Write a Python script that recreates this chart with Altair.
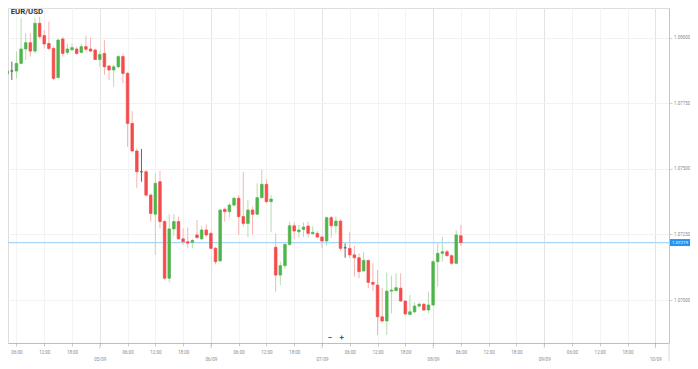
import pandas as pd
import altair as alt

# ---- hourly EUR/USD candles (04/09 04:00 -> 08/09 06:00, UTC) ----
start = "2023-09-04 04:00"
open_ = [1.07863, 1.07873, 1.07873, 1.07902, 1.07957, 1.07981, 1.07949, 1.08055, 1.08008, 1.07978,
         1.07959, 1.07848, 1.07995, 1.07944, 1.07954, 1.07957, 1.07944, 1.07966, 1.07957, 1.07953,
         1.07917, 1.07940, 1.07892, 1.07877, 1.07889, 1.07928, 1.07864, 1.07673, 1.07568, 1.07489,
         1.07489, 1.07400, 1.07327, 1.07451, 1.07299, 1.07083, 1.07271, 1.07299, 1.07233, 1.07222,
         1.07220, 1.07248, 1.07233, 1.07267, 1.07254, 1.07197, 1.07149, 1.07346, 1.07337, 1.07362,
         1.07388, 1.07318, 1.07292, 1.07343, 1.07327, 1.07390, 1.07441, 1.07375, 1.07201, 1.07095,
         1.07131, 1.07212, 1.07283, 1.07260, 1.07269, 1.07282, 1.07253, 1.07254, 1.07240, 1.07225,
         1.07314, 1.07283, 1.07301, 1.07199, 1.07197, 1.07172, 1.07161, 1.07111, 1.07151, 1.07067,
         1.07057, 1.06936, 1.06920, 1.07034, 1.07036, 1.07045, 1.06996, 1.06945, 1.06955, 1.06977,
         1.06984, 1.06962, 1.06981, 1.07146, 1.07178, 1.07184, 1.07169, 1.07140, 1.07245]
high = [1.07896, 1.07909, 1.07947, 1.08074, 1.08017, 1.08017, 1.08074, 1.08080, 1.08029, 1.08061,
        1.07966, 1.07997, 1.08004, 1.07978, 1.07978, 1.07966, 1.07978, 1.08008, 1.08000, 1.07959,
        1.07947, 1.07991, 1.07896, 1.07896, 1.07934, 1.07940, 1.07870, 1.07720, 1.07578, 1.07576,
        1.07496, 1.07407, 1.07483, 1.07492, 1.07305, 1.07327, 1.07327, 1.07318, 1.07273, 1.07276,
        1.07233, 1.07305, 1.07283, 1.07288, 1.07260, 1.07203, 1.07347, 1.07352, 1.07369, 1.07394,
        1.07400, 1.07489, 1.07381, 1.07356, 1.07445, 1.07496, 1.07461, 1.07400, 1.07254, 1.07146,
        1.07222, 1.07299, 1.07296, 1.07286, 1.07296, 1.07299, 1.07280, 1.07263, 1.07248, 1.07318,
        1.07321, 1.07318, 1.07309, 1.07216, 1.07260, 1.07206, 1.07178, 1.07184, 1.07152, 1.07140,
        1.07114, 1.07045, 1.07105, 1.07093, 1.07102, 1.07102, 1.07000, 1.07019, 1.06991, 1.06991,
        1.06988, 1.07032, 1.07152, 1.07216, 1.07240, 1.07191, 1.07174, 1.07267, 1.07286]
low = [1.07820, 1.07839, 1.07845, 1.07900, 1.07915, 1.07928, 1.07940, 1.07997, 1.07959, 1.07953,
       1.07839, 1.07845, 1.07928, 1.07934, 1.07949, 1.07934, 1.07940, 1.07947, 1.07944, 1.07915,
       1.07889, 1.07858, 1.07839, 1.07813, 1.07883, 1.07826, 1.07584, 1.07565, 1.07426, 1.07451,
       1.07394, 1.07299, 1.07172, 1.07273, 1.07076, 1.07067, 1.07245, 1.07229, 1.07210, 1.07199,
       1.07197, 1.07233, 1.07229, 1.07240, 1.07194, 1.07136, 1.07146, 1.07299, 1.07314, 1.07356,
       1.07248, 1.07280, 1.07240, 1.07250, 1.07324, 1.07388, 1.07369, 1.07260, 1.07032, 1.07057,
       1.07118, 1.07207, 1.07233, 1.07238, 1.07240, 1.07238, 1.07248, 1.07235, 1.07197, 1.07207,
       1.07238, 1.07254, 1.07187, 1.07161, 1.07159, 1.07089, 1.07083, 1.07108, 1.07045, 1.07034,
       1.06867, 1.06915, 1.06867, 1.06949, 1.07032, 1.06994, 1.06943, 1.06943, 1.06949, 1.06971,
       1.06958, 1.06949, 1.06978, 1.07051, 1.07146, 1.07165, 1.07133, 1.07136, 1.07206]
close = [1.07873, 1.07873, 1.07902, 1.07957, 1.07981, 1.07949, 1.08055, 1.08004, 1.07976, 1.07959,
         1.07845, 1.07991, 1.07940, 1.07957, 1.07962, 1.07940, 1.07966, 1.07956, 1.07949, 1.07917,
         1.07936, 1.07889, 1.07877, 1.07889, 1.07928, 1.07864, 1.07673, 1.07568, 1.07489, 1.07489,
         1.07400, 1.07330, 1.07445, 1.07299, 1.07083, 1.07271, 1.07299, 1.07233, 1.07222, 1.07217,
         1.07227, 1.07238, 1.07267, 1.07248, 1.07197, 1.07146, 1.07343, 1.07337, 1.07362, 1.07388,
         1.07318, 1.07292, 1.07343, 1.07327, 1.07390, 1.07441, 1.07375, 1.07385, 1.07095, 1.07131,
         1.07212, 1.07283, 1.07263, 1.07267, 1.07278, 1.07254, 1.07258, 1.07240, 1.07225, 1.07314,
         1.07283, 1.07301, 1.07197, 1.07199, 1.07172, 1.07161, 1.07108, 1.07151, 1.07067, 1.07060,
         1.06936, 1.06920, 1.07034, 1.07038, 1.07047, 1.06996, 1.06947, 1.06955, 1.06977, 1.06984,
         1.06962, 1.06981, 1.07146, 1.07178, 1.07184, 1.07169, 1.07140, 1.07248, 1.07219]

current_price = [1.07219]
current_label = ["1.07219"]
y_ticks = [1.07000, 1.07250, 1.07500, 1.07750, 1.08000]
day_marks = ["2023-09-05", "2023-09-06", "2023-09-07", "2023-09-08", "2023-09-09", "2023-09-10"]
title_text = ["EUR/USD"]

# ---- build tables ----
times = pd.date_range(start, periods=len(open_), freq="h")
df = pd.DataFrame({"t": times.strftime("%Y-%m-%dT%H:%M:%SZ"),
                   "open": open_, "high": high, "low": low, "close": close})
body_colors = {"up": "#50b44c", "down": "#f54b4b", "flat": "#555555"}
wick_colors = {"up": "#b3deac", "down": "#f8b3b3", "flat": "#666666"}
direction = ["up" if c > o else ("down" if c < o else "flat") for o, c in zip(open_, close)]
df["bcol"] = [body_colors[d] for d in direction]
df["wcol"] = [wick_colors[d] for d in direction]

days = pd.DataFrame({"t": [d + "T00:00:00Z" for d in day_marks]})
price = pd.DataFrame({"p": current_price, "lab": current_label})


def ms(s):
    return int(pd.Timestamp(s, tz="UTC").value // 10**6)


x_ticks = [int(t.value // 10**6) for t in
           pd.date_range("2023-09-04 06:00", "2023-09-10 00:00", freq="6h", tz="UTC")]

W, H = 661, 335
PAD_R, PAD_B = 21, 18

xscale = alt.Scale(type="utc", domain=[ms("2023-09-04 05:15"), ms("2023-09-10 01:53")], nice=False)
yscale = alt.Scale(domain=[1.068361, 1.081132], nice=False, zero=False)

xaxis = alt.Axis(
    values=x_ticks,
    labelExpr="utchours(datum.value) == 0 ? ['', utcFormat(datum.value, '%d/%m')] : utcFormat(datum.value, '%H:%M')",
    grid=True,
    gridColor={"condition": {"test": "utchours(datum.value) == 0", "value": "#e3e3e3"}, "value": "#f3f3f3"},
    tickSize=3, tickColor="#cccccc", domainColor="#bdbdbd",
    labelFontSize=4.5, labelColor="#8a8a8a", labelFont="Roboto", labelLineHeight=7.5,
    labelPadding=3, labelOverlap=False, labelFlush=False, labelBound=False, title=None,
)
yaxis = alt.Axis(
    orient="right", values=y_ticks, format=".5f", grid=True, gridColor="#f2f2f2",
    tickSize=3, tickColor="#d0d0d0", domainColor="#c4c4c4",
    labelFontSize=4.5, labelColor="#8a8a8a", labelFont="Roboto", labelPadding=1.5, title=None,
)

xenc = alt.X("t:T", scale=xscale, axis=xaxis, title=None)

wicks = alt.Chart(df).mark_rule(strokeWidth=1, clip=True).encode(
    x=xenc,
    y=alt.Y("high:Q", scale=yscale, axis=yaxis, title=None),
    y2="low:Q",
    color=alt.Color("wcol:N", scale=None),
)
bodies = alt.Chart(df).mark_bar(size=2.6, strokeWidth=0.7, clip=True).encode(
    x=xenc,
    y=alt.Y("open:Q", scale=yscale, axis=yaxis, title=None),
    y2="close:Q",
    color=alt.Color("bcol:N", scale=None),
    stroke=alt.Color("bcol:N", scale=None),
)
price_line = alt.Chart(price).mark_rule(color="#a9d6f6", strokeWidth=1.3).encode(
    y=alt.Y("p:Q", scale=yscale, axis=yaxis, title=None),
    x=alt.value(0), x2=alt.value(W + 1),
)
price_box = alt.Chart(price).mark_point(
    shape="M-1,-0.35H1V0.35H-1Z", size=400, filled=True, opacity=1, color="#2196f3", strokeWidth=0
).encode(
    y=alt.Y("p:Q", scale=yscale, axis=yaxis, title=None),
    x=alt.value(W + 11),
)
price_text = alt.Chart(price).mark_text(
    color="white", fontSize=4.4, font="Roboto", align="center", baseline="middle"
).encode(
    y=alt.Y("p:Q", scale=yscale, axis=yaxis, title=None),
    x=alt.value(W + 11),
    text="lab:N",
)
day_ticks = alt.Chart(days).mark_rule(color="#aaaaaa", strokeWidth=0.8, strokeDash=[1, 1]).encode(
    x=xenc, y=alt.value(H), y2=alt.value(H + 6),
)
title = alt.Chart(pd.DataFrame({"txt": title_text})).mark_text(
    font="Roboto", fontWeight="bold", fontSize=7.8, color="#333333", align="left", baseline="middle"
).encode(x=alt.value(2.7), y=alt.value(3.8), text="txt:N")
frame_right = alt.Chart(pd.DataFrame({"a": [0]})).mark_rule(color="#d8d8d8", strokeWidth=1).encode(
    x=alt.value(W), y=alt.value(H), y2=alt.value(H + PAD_B),
)
minus = alt.Chart(pd.DataFrame({"s": ["\u2212"]})).mark_text(
    font="Roboto", fontSize=8, fontWeight="bold", color="#555555", align="center", baseline="middle"
).encode(x=alt.value(322), y=alt.value(329.5), text="s:N")
plus = alt.Chart(pd.DataFrame({"s": ["+"]})).mark_text(
    font="Roboto", fontSize=8, fontWeight="bold", color="#555555", align="center", baseline="middle"
).encode(x=alt.value(333.7), y=alt.value(329.5), text="s:N")

chart = alt.layer(
    wicks, price_line, bodies, price_box, price_text, day_ticks, title,
    frame_right, minus, plus,
).properties(
    width=W, height=H,
    padding={"left": 0, "top": 0, "right": PAD_R, "bottom": PAD_B},
    autosize=alt.AutoSizeParams(type="none"),
).configure_view(strokeWidth=0).configure(font="Roboto", background="white")

chart.save("out.html", embed_options={"renderer": "svg", "actions": False})
